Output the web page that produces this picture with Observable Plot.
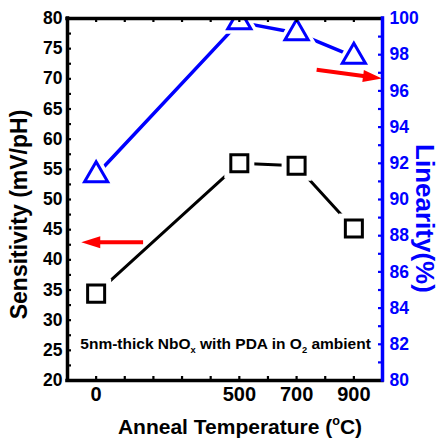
<!DOCTYPE html>
<html><head><meta charset="utf-8">
<script src="https://cdn.jsdelivr.net/npm/d3@7"></script>
<script src="https://cdn.jsdelivr.net/npm/@observablehq/plot@0.6"></script>
<style>html,body{margin:0;padding:0;background:#fff;}</style>
</head><body><div id="chart"></div>
<script>
// ---- data ----
const temperatures = [0, 500, 700, 900];
const sensitivity = [34.4, 56.0, 55.6, 45.2];      // mV/pH (left axis)
const linearity = [91.35, 99.8, 99.2, 97.9];        // % (right axis)

const xTickLabels = [0, 500, 700, 900];
const xMinorTicks = [0, 100, 200, 300, 400, 500, 600, 700, 800, 900];
const leftTickLabels = [20, 25, 30, 35, 40, 45, 50, 55, 60, 65, 70, 75, 80];
const leftMinorTicks = [22.5, 25, 27.5, 30, 32.5, 35, 37.5, 40, 42.5, 45, 47.5, 50, 52.5, 55, 57.5, 60, 62.5, 65, 67.5, 70, 72.5, 75, 77.5];
const rightTickLabels = [80, 82, 84, 86, 88, 90, 92, 94, 96, 98, 100];
const rightMinorTicks = [81, 82, 83, 84, 85, 86, 87, 88, 89, 90, 91, 92, 93, 94, 95, 96, 97, 98, 99];

// red arrows: tail (x1,y1) -> tip (x2,y2), in left-axis units
const arrowX1 = [164, 770];
const arrowY1 = [42.9, 71.5];
const arrowX2 = [-52, 998];
const arrowY2 = [42.9, 70.05];

const annotationParts = ["5nm-thick NbO", "x", " with PDA in O", "2", " ambient"];
const annotationKinds = ["n", "sub", "n", "sub", "n"];
const annotationX = [452];
const annotationY = [26.1];

const xTitleParts = ["Anneal Temperature (", "o", "C)"];
const xTitleKinds = ["n", "sup", "n"];
const yLeftTitle = "Sensitivity (mV/pH)";
const yRightTitle = "Linearity(%)";

// ---- layout ----
const W = 440, H = 441;
const mL = 67, mR = 58, mT = 18, mB = 61;
const FW = W - mL - mR, FH = H - mT - mB, TICK = 4;
const xDomain = [-100, 1000], yDomain = [20, 80], linDomain = [80, 100];
const linToY = v => yDomain[0] + (v - linDomain[0]) * (yDomain[1] - yDomain[0]) / (linDomain[1] - linDomain[0]);
const yToLin = y => linDomain[0] + (y - yDomain[0]) * (linDomain[1] - linDomain[0]) / (yDomain[1] - yDomain[0]);

const BLUE = "#0000ff", RED = "#ff0000";
const FONT = "'Liberation Sans', Arial, Helvetica, sans-serif";

const sensData = temperatures.map((t, i) => ({x: t, y: sensitivity[i]}));
const linData = temperatures.map((t, i) => ({x: t, y: linToY(linearity[i])}));
const kx = FW / (xDomain[1] - xDomain[0]);
const ky = FH / (yDomain[1] - yDomain[0]);
const arrows = arrowX1.map((x1, i) => ({
  x1, y1: arrowY1[i], x2: arrowX2[i], y2: arrowY2[i],
  angle: Math.atan2(-(arrowY2[i] - arrowY1[i]) * ky, (arrowX2[i] - x1) * kx) * 180 / Math.PI
}));
const arrowHead = {
  draw(ctx) { const L = 19, w = 6; ctx.moveTo(0, 0); ctx.lineTo(-L, -w); ctx.lineTo(-L, w); ctx.closePath(); }
};

const svg = Plot.plot({
  width: W, height: H,
  marginLeft: mL, marginRight: mR, marginTop: mT, marginBottom: mB,
  style: {fontFamily: FONT, background: "#fff", color: "#000"},
  x: {domain: xDomain},
  y: {domain: yDomain},
  marks: [
    Plot.line(sensData, {x: "x", y: "y", stroke: "#000", strokeWidth: 3}),
    Plot.line(linData, {x: "x", y: "y", stroke: BLUE, strokeWidth: 3.5, clip: true}),
    Plot.dot(sensData, {x: "x", y: "y", symbol: "square", r: 9.6, fill: "#fff", stroke: "#fff", strokeWidth: 13}),
    Plot.dot(linData, {x: "x", y: "y", symbol: "triangle", r: 8.6, fill: "#fff", stroke: "#fff", strokeWidth: 10, clip: true}),
    Plot.dot(sensData, {x: "x", y: "y", symbol: "square", r: 9.6, fill: "#fff", stroke: "#000", strokeWidth: 3}),
    Plot.dot(linData, {x: "x", y: "y", symbol: "triangle", r: 8.6, fill: "#fff", stroke: BLUE, strokeWidth: 3, clip: true}),
    Plot.arrow(arrows, {x1: "x1", y1: "y1", x2: "x2", y2: "y2", stroke: RED, strokeWidth: 4, headLength: 0, insetEnd: 15, strokeLinecap: "butt"}),
    Plot.dot(arrows, {x: "x2", y: "y2", symbol: arrowHead, rotate: "angle", fill: RED, stroke: "none"}),
    Plot.text(annotationX.map((x, i) => ({x, y: annotationY[i]})), {x: "x", y: "y", text: () => annotationParts.join(""), fontSize: 15.5, fontWeight: "bold", fill: "#000", letterSpacing: "-0.25px"}),
    // inward ticks
    Plot.ruleX(xMinorTicks, {x: d => d, insetTop: FH - TICK, stroke: "#000", strokeWidth: 2.2}),
    Plot.ruleX(xMinorTicks, {x: d => d, insetBottom: FH - TICK, stroke: "#000", strokeWidth: 2.2}),
    Plot.ruleY(leftMinorTicks, {y: d => d, insetRight: FW - TICK, stroke: "#000", strokeWidth: 2.2}),
    Plot.ruleY(rightMinorTicks.map(linToY), {y: d => d, insetLeft: FW - TICK, stroke: BLUE, strokeWidth: 2.2}),
    // axis labels
    Plot.axisX({anchor: "bottom", ticks: xTickLabels, tickSize: 0, tickPadding: 6, fontSize: 20, fontWeight: "bold", label: null, tickFormat: d => String(d)}),
    Plot.axisY({anchor: "left", ticks: leftTickLabels, tickSize: 0, tickPadding: 5, fontSize: 17.5, fontWeight: "bold", label: null, tickFormat: d => String(d)}),
    Plot.axisY({anchor: "right", ticks: rightTickLabels.map(linToY), tickSize: 0, tickPadding: 7, fontSize: 17.5, fontWeight: "bold", fill: BLUE, label: null, tickFormat: d => String(Math.round(yToLin(d)))}),
    // frame
    Plot.ruleX([xDomain[0]], {stroke: "#000", strokeWidth: 3.5, strokeLinecap: "square"}),
    Plot.ruleY(yDomain, {stroke: "#000", strokeWidth: 3.5, strokeLinecap: "square"}),
    Plot.ruleX([xDomain[1]], {stroke: BLUE, strokeWidth: 3.5, strokeLinecap: "square"}),
    // titles
    Plot.text([yLeftTitle], {frameAnchor: "left", text: d => d, rotate: -90, dx: -41, dy: 15, textAnchor: "middle", lineAnchor: "bottom", fontSize: 23, fontWeight: "bold", fill: "#000"}),
    Plot.text([yRightTitle], {frameAnchor: "right", text: d => d, rotate: 90, dx: 33, dy: 19, textAnchor: "middle", lineAnchor: "bottom", fontSize: 26, fontWeight: "bold", fill: BLUE}),
    Plot.text([xTitleParts.join("")], {frameAnchor: "bottom", text: d => d, dx: 15, dy: 53, textAnchor: "middle", lineAnchor: "bottom", fontSize: 21, fontWeight: "bold", fill: "#000"})
  ]
});

// rich text (sub/superscripts)
function richify(root, parts, kinds) {
  d3.select(root).selectAll("text").each(function() {
    if (this.textContent !== parts.join("")) return;
    const fs = parseFloat(getComputedStyle(this).fontSize) || 16;
    const sel = d3.select(this);
    sel.text(null);
    let shift = 0;
    parts.forEach((p, i) => {
      const k = kinds[i];
      const target = k === "sub" ? 0.3 * fs : k === "sup" ? -0.42 * fs : 0;
      const t = sel.append("tspan").text(p).attr("dy", (target - shift).toFixed(2));
      if (k !== "n") t.attr("font-size", (fs * 0.6).toFixed(1));
      shift = target;
    });
  });
}
document.getElementById("chart").appendChild(svg);
richify(svg, annotationParts, annotationKinds);
richify(svg, xTitleParts, xTitleKinds);
</script>
</body></html>
